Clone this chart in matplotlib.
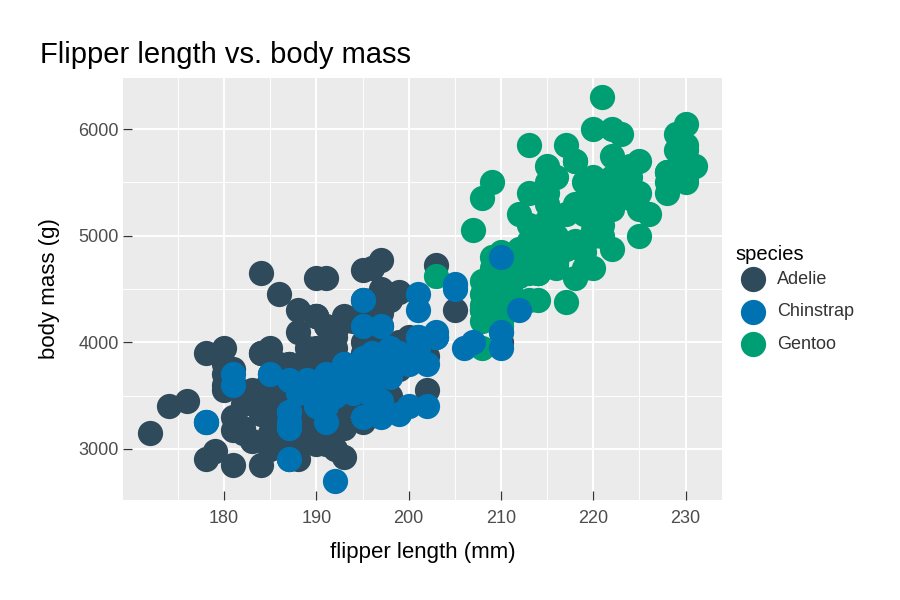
import matplotlib
matplotlib.use("Agg")
import matplotlib.pyplot as plt

plt.rcParams['font.family'] = ['Liberation Sans', 'DejaVu Sans']

# flipper length (mm) and body mass (g) per species
adelie_flipper = [181, 186, 195, 193, 190, 181, 195, 193, 190, 186,
                  180, 182, 191, 198, 185, 195, 197, 184, 194, 174,
                  180, 189, 185, 180, 187, 183, 187, 172, 180, 178,
                  178, 188, 184, 195, 196, 190, 180, 181, 184, 182,
                  195, 186, 196, 185, 190, 182, 179, 190, 191, 186,
                  188, 190, 200, 187, 191, 186, 193, 181, 194, 185,
                  195, 185, 192, 184, 192, 195, 188, 190, 198, 190,
                  190, 196, 197, 190, 195, 191, 184, 187, 195, 189,
                  196, 187, 193, 191, 194, 190, 189, 189, 190, 202,
                  205, 185, 186, 187, 208, 190, 196, 178, 192, 192,
                  203, 183, 190, 193, 184, 199, 190, 181, 197, 198,
                  191, 193, 197, 191, 196, 188, 199, 189, 189, 187,
                  198, 176, 202, 186, 199, 191, 195, 191, 210, 190,
                  197, 193, 199, 187, 190, 191, 200, 185, 193, 193,
                  187, 188, 190, 192, 185, 190, 184, 195, 193, 187,
                  201]
adelie_mass = [3750, 3800, 3250, 3450, 3650, 3625, 4675, 3475, 4250, 3300,
               3700, 3200, 3800, 4400, 3700, 3450, 4500, 3325, 4200, 3400,
               3600, 3800, 3950, 3800, 3800, 3550, 3200, 3150, 3950, 3250,
               3900, 3300, 3900, 3325, 4150, 3950, 3550, 3300, 4650, 3150,
               3900, 3100, 4400, 3000, 4600, 3425, 2975, 3450, 4150, 3500,
               4300, 3450, 4050, 2900, 3700, 3550, 3800, 2850, 3750, 3150,
               4400, 3600, 4050, 2850, 3950, 3350, 4100, 3050, 4450, 3600,
               3900, 3550, 4150, 3700, 4250, 3700, 3900, 3550, 4000, 3200,
               4700, 3800, 4200, 3350, 3550, 3800, 3500, 3950, 3600, 3550,
               4300, 3400, 4450, 3300, 4300, 3700, 4350, 2900, 4100, 3725,
               4725, 3075, 4250, 2925, 3550, 3750, 3900, 3175, 4775, 3825,
               4600, 3200, 4275, 3900, 4075, 2900, 3775, 3350, 3325, 3150,
               3500, 3450, 3875, 3050, 4000, 3275, 4300, 3050, 4000, 3325,
               3500, 3500, 4475, 3425, 3900, 3175, 3975, 3400, 4250, 3400,
               3475, 3050, 3725, 3000, 3650, 4250, 3475, 3450, 3750, 3700,
               4000]

chinstrap_flipper = [192, 196, 193, 188, 197, 198, 178, 197, 195, 198,
                     193, 194, 185, 201, 190, 201, 197, 181, 190, 195,
                     181, 191, 187, 193, 195, 197, 200, 200, 191, 205,
                     187, 201, 187, 203, 195, 199, 195, 210, 192, 205,
                     210, 187, 196, 196, 196, 201, 190, 212, 187, 198,
                     199, 201, 193, 203, 187, 197, 191, 203, 202, 194,
                     206, 189, 195, 207, 202, 193, 210, 198]
chinstrap_mass = [3500, 3900, 3650, 3525, 3725, 3950, 3250, 3750, 4150, 3700,
                  3800, 3775, 3700, 4050, 3575, 4050, 3300, 3700, 3450, 4400,
                  3600, 3400, 2900, 3800, 3300, 4150, 3400, 3800, 3700, 4550,
                  3200, 4300, 3350, 4100, 3600, 3900, 3850, 4800, 2700, 4500,
                  3950, 3650, 3550, 3500, 3675, 4450, 3400, 4300, 3250, 3675,
                  3325, 3950, 3600, 4050, 3350, 3450, 3250, 4050, 3800, 3525,
                  3950, 3650, 3650, 4000, 3400, 3775, 4100, 3775]

gentoo_flipper = [211, 230, 210, 218, 215, 210, 211, 219, 209, 215,
                  214, 216, 214, 213, 210, 217, 210, 221, 209, 222,
                  218, 215, 213, 215, 215, 215, 210, 215, 210, 220,
                  222, 209, 207, 230, 220, 220, 213, 219, 208, 208,
                  208, 225, 210, 216, 222, 217, 210, 225, 213, 215,
                  210, 220, 210, 225, 217, 220, 208, 220, 208, 224,
                  208, 221, 214, 231, 219, 230, 214, 229, 220, 223,
                  216, 221, 221, 217, 216, 230, 209, 220, 215, 223,
                  212, 221, 212, 224, 212, 228, 218, 218, 212, 230,
                  218, 228, 212, 224, 214, 226, 216, 222, 203, 225,
                  219, 228, 215, 228, 216, 215, 210, 219, 208, 209,
                  216, 229, 213, 230, 217, 230, 217, 222, 214, 215,
                  222, 212, 213]
gentoo_mass = [4500, 5700, 4450, 5700, 5400, 4550, 4800, 5200, 4400, 5150,
               4650, 5550, 4650, 5850, 4200, 5850, 4150, 6300, 4800, 5350,
               5700, 5000, 4400, 5050, 5000, 5100, 4100, 5650, 4600, 5550,
               5250, 4700, 5050, 6050, 5150, 5400, 4950, 5250, 4350, 5350,
               3950, 5700, 4300, 4750, 5550, 4900, 4200, 5400, 5100, 5300,
               4850, 5300, 4400, 5000, 4900, 5050, 4300, 5000, 4450, 5550,
               4200, 5300, 4400, 5650, 4700, 5700, 4650, 5800, 4700, 5550,
               4750, 5000, 5100, 5200, 4700, 5800, 4600, 6000, 4750, 5950,
               4625, 5450, 4725, 5350, 4750, 5600, 4600, 5300, 4875, 5550,
               4950, 5400, 4750, 5650, 4850, 5200, 4925, 4875, 4625, 5250,
               4850, 5600, 4975, 5500, 4725, 5500, 4700, 5500, 4575, 5500,
               5000, 5950, 4650, 5500, 4375, 5850, 4875, 6000, 4925, 4850,
               5750, 5200, 5400]

species = ['Adelie', 'Chinstrap', 'Gentoo']
colors = {'Adelie': '#2E4A5B', 'Chinstrap': '#0072B2', 'Gentoo': '#009E73'}

x_major = [180, 190, 200, 210, 220, 230]
x_minor = [175, 185, 195, 205, 215, 225]
y_major = [3000, 4000, 5000, 6000]
y_minor = [3500, 4500, 5500]

fig = plt.figure(figsize=(9, 6), dpi=100)
ax = fig.add_axes([0.1367, 0.1667, 0.6655, 0.7033])
ax.set_facecolor('#EBEBEB')

# draw in dataset row order: Adelie, Gentoo, Chinstrap
ax.scatter(adelie_flipper, adelie_mass, s=330, c=colors['Adelie'],
           linewidths=0, label='Adelie', zorder=3)
ax.scatter(gentoo_flipper, gentoo_mass, s=330, c=colors['Gentoo'],
           linewidths=0, label='Gentoo', zorder=3)
ax.scatter(chinstrap_flipper, chinstrap_mass, s=330, c=colors['Chinstrap'],
           linewidths=0, label='Chinstrap', zorder=3)

ax.set_xlim(169.05, 233.95)
ax.set_ylim(2520, 6480)
ax.set_xticks(x_major)
ax.set_xticks(x_minor, minor=True)
ax.set_yticks(y_major)
ax.set_yticks(y_minor, minor=True)
ax.grid(which='major', color='white', linewidth=1.4, zorder=1)
ax.grid(which='minor', color='white', linewidth=0.7, zorder=1)
ax.set_axisbelow(True)
for sp in ax.spines.values():
    sp.set_visible(False)

ax.tick_params(which='major', direction='in', length=6.5, width=0.9,
               color='#333333', labelcolor='#4D4D4D', labelsize=13)
ax.tick_params(axis='x', which='major', pad=7)
ax.tick_params(axis='y', which='major', pad=3)
ax.tick_params(which='minor', length=0)

ax.set_xlabel('flipper length (mm)', fontsize=16, labelpad=11)
ax.set_ylabel('body mass (g)', fontsize=16, labelpad=13)
fig.text(40 / 900, 1 - 55 / 600, 'Flipper length vs. body mass',
         fontsize=21, ha='left', va='center')

# legend: title placed separately, entries in alphabetical order
handles, labels = ax.get_legend_handles_labels()
order = [labels.index(s) for s in species]
leg = ax.legend([handles[i] for i in order], [labels[i] for i in order],
                loc='center left', bbox_to_anchor=(1.01, 0.4455),
                frameon=False, fontsize=13,
                handletextpad=0.3, labelspacing=0.86, borderaxespad=0)
for t in leg.get_texts():
    t.set_color('#333333')
fig.text(735 / 900, 1 - 254 / 600, 'species', fontsize=14.5,
         ha='left', va='center')

fig.savefig('out.png', dpi=100)
